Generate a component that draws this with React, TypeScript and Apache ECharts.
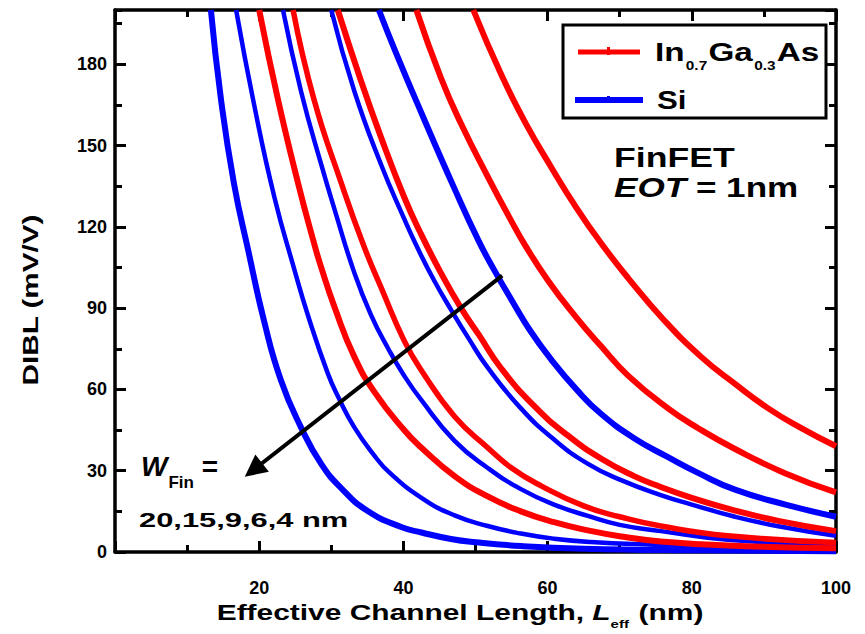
import React, { useEffect, useRef } from "react";
import * as echarts from "echarts";

const FONT = 'Arial, "Liberation Sans", sans-serif';
const RED = "#ff0000";
const BLUE = "#0000ff";

const xTickLabels = [20, 40, 60, 80, 100];
const yTickLabels = [0, 30, 60, 90, 120, 150, 180];

// Si, W_Fin = 4, 6, 9, 15, 20 nm  ([Leff (nm), DIBL (mV/V)])
const si4 = [[13.3, 200], [14.7, 167], [16.5, 136], [18.5, 111], [20.7, 85], [23, 63.5], [25.8, 46], [28.6, 32.5], [31.4, 23.5], [35, 15.2], [39.7, 9.2], [42.5, 7.2], [46.6, 4.8], [50, 3.6], [56.3, 2.2], [65, 1.2], [80, 0.6], [100, 0.3]];
const si6 = [[16.8, 200], [19.3, 165], [22.1, 131], [24.9, 104], [26.8, 87], [29.5, 66], [31, 57], [33.2, 46], [36, 35.5], [38, 29.5], [42.5, 20], [47.1, 13.5], [51.7, 9.6], [56.3, 6.8], [60.9, 4.9], [66, 3.7], [75.7, 2.6], [85, 1.6], [100, 0.8]];
const si9 = [[23.3, 200], [25.8, 170], [28.6, 143], [30.5, 126], [33.2, 103], [35.5, 87.5], [37.9, 75], [40, 65.5], [42.5, 56], [47.1, 41], [51.7, 31], [56.3, 23.2], [60.9, 17.5], [65.6, 13.3], [70, 10], [75.7, 7.7], [85, 4.5], [100, 2.5]];
const si15 = [[30, 200], [33.2, 170], [36.9, 143], [40.1, 123], [42, 112], [44.3, 100], [46.7, 89], [49, 79], [51.7, 68], [56.3, 53], [60.9, 41.5], [65.6, 32.5], [70.2, 26.5], [75.7, 21], [80, 17.5], [86, 13], [92, 9.5], [100, 6]];
const si20 = [[36.6, 200], [39, 184], [42.5, 162], [47.1, 134], [50.4, 115], [52.6, 104], [55, 93], [57.5, 82], [60.5, 71], [64, 60], [67.4, 51], [72, 42], [76.7, 35], [81, 29], [86, 23], [93, 17.5], [100, 13]];

// In0.7Ga0.3As, W_Fin = 4, 6, 9, 15, 20 nm
const ingaas4 = [[20, 200], [22.6, 167], [25.4, 136], [27.6, 114], [28.6, 105], [30.5, 90], [33.2, 72], [36, 59], [40.1, 45], [42.5, 38.5], [47.1, 28], [51.7, 20.5], [56.3, 15], [60.9, 11], [65.6, 8], [70, 5.8], [75.7, 3.9], [85, 2.4], [100, 1.4]];
const ingaas6 = [[24.7, 200], [27.6, 167], [31.4, 136], [34.5, 113], [37, 97], [40.1, 78], [42.5, 67], [47.1, 50], [51.7, 38.5], [55, 31], [59.1, 24.4], [65, 17], [70, 13], [75.7, 9.6], [85, 6], [100, 3.5]];
const ingaas9 = [[30.9, 200], [34.1, 174], [36.9, 153], [40.1, 131], [42.5, 117], [45.2, 103], [48, 90], [50.5, 80], [53.5, 68], [58.1, 54], [62.8, 43], [67.4, 34.5], [72, 28], [75.7, 24], [80, 20], [86, 15.3], [92, 11.5], [100, 7.7]];
const ingaas15 = [[41.8, 200], [45.2, 175], [48, 158], [51.8, 138], [55, 122], [56.7, 114], [60.1, 100], [64, 86.5], [67.4, 76], [71.2, 65], [76.7, 53], [81, 45.5], [86, 38], [93, 29], [100, 22]];
const ingaas20 = [[49.7, 200], [53.6, 176], [57, 158], [60.5, 142], [64, 127], [67.4, 114], [71.2, 101], [76, 86], [81.3, 72], [86, 62], [90.6, 53], [95, 46], [100, 39]];

// arrow annotation, data coordinates (tail -> head)
const arrowTail = [53.7, 102];
const arrowHead = [19.2, 30.3];

const curves = [
  { name: "Si", data: si4, color: BLUE, width: 6 },
  { name: "Si", data: si6, color: BLUE, width: 4.5 },
  { name: "Si", data: si9, color: BLUE, width: 4.5 },
  { name: "Si", data: si15, color: BLUE, width: 4.5 },
  { name: "Si", data: si20, color: BLUE, width: 6 },
  { name: "In0.7Ga0.3As", data: ingaas4, color: RED, width: 6 },
  { name: "In0.7Ga0.3As", data: ingaas6, color: RED, width: 5.5 },
  { name: "In0.7Ga0.3As", data: ingaas9, color: RED, width: 6 },
  { name: "In0.7Ga0.3As", data: ingaas15, color: RED, width: 6 },
  { name: "In0.7Ga0.3As", data: ingaas20, color: RED, width: 6 },
];

const black = "#000";
const lineStyle = { color: black, width: 3.5 };
const tickStyle = { color: black, width: 3 };

function makeX(position: string, showLabel: boolean) {
  return {
    type: "value",
    position,
    min: 0,
    max: 100,
    interval: 20,
    axisLine: { show: true, onZero: false, lineStyle },
    axisTick: { show: true, inside: true, length: 11, lineStyle: tickStyle },
    minorTick: { show: true, splitNumber: 2, length: 7, lineStyle: tickStyle },
    splitLine: { show: false },
    minorSplitLine: { show: false },
    axisLabel: {
      show: showLabel,
      showMinLabel: false,
      margin: 27,
      fontSize: 18,
      fontWeight: "bold",
      fontFamily: FONT,
      color: black,
      formatter: (v: number) => (xTickLabels.includes(v) ? String(v) : ""),
    },
  };
}

function makeY(position: string, interval: number, major: boolean, showLabel: boolean) {
  return {
    type: "value",
    position,
    min: 0,
    max: 200,
    interval,
    axisLine: { show: major, onZero: false, lineStyle },
    axisTick: { show: true, inside: true, length: major ? 11 : 7, lineStyle: tickStyle },
    splitLine: { show: false },
    axisLabel: {
      show: showLabel,
      showMaxLabel: false,
      margin: 8,
      fontSize: 18,
      fontWeight: "bold",
      fontFamily: FONT,
      color: black,
      formatter: (v: number) => (yTickLabels.includes(v) ? String(v) : ""),
    },
  };
}

export default function App() {
  const ref = useRef<HTMLDivElement>(null);

  useEffect(() => {
    const chart = echarts.init(ref.current!, null, { renderer: "svg" });

    const series: any[] = curves.map((c) => ({
      type: "line",
      name: c.name,
      data: c.data,
      xAxisIndex: 0,
      yAxisIndex: 0,
      symbol: "none",
      showSymbol: false,
      smooth: 0.5,
      clip: true,
      lineStyle: { color: c.color, width: c.width },
      itemStyle: { color: c.color },
    }));
    series[series.length - 1].markLine = {
      silent: true,
      symbol: ["none", "triangle"],
      symbolSize: 22,
      label: { show: false },
      lineStyle: { color: black, width: 4, type: "solid" },
      itemStyle: { color: black },
      data: [[{ coord: arrowTail }, { coord: arrowHead }]],
    };

    const tx = (extra: any) => ({ fontFamily: FONT, fontWeight: "bold", fill: black, ...extra });

    chart.setOption({
      animation: false,
      backgroundColor: "#fff",
      grid: { left: 115, right: 29, top: 10, bottom: 82, containLabel: false },
      xAxis: [makeX("bottom", true), makeX("top", false)],
      yAxis: [
        makeY("left", 30, true, true),
        makeY("left", 15, false, false),
        makeY("right", 30, true, false),
        makeY("right", 15, false, false),
      ],
      series,
      graphic: [
        // legend
        {
          type: "rect",
          shape: { x: 563, y: 25, width: 263, height: 93 },
          style: { fill: "#fff", stroke: black, lineWidth: 3 },
          z: 10,
        },
        { type: "line", shape: { x1: 578, y1: 52, x2: 640, y2: 52 }, style: { stroke: RED, lineWidth: 5 }, z: 11 },
        { type: "rect", shape: { x: 607, y: 47, width: 3, height: 8 }, style: { fill: RED }, z: 11 },
        { type: "line", shape: { x1: 575, y1: 100, x2: 643, y2: 100 }, style: { stroke: BLUE, lineWidth: 6 }, z: 11 },
        { type: "rect", shape: { x: 607, y: 96, width: 3, height: 6 }, style: { fill: BLUE }, z: 11 },
        {
          type: "text",
          x: 655,
          y: 52,
          scaleX: 1.28,
          z: 11,
          style: {
            text: "{m|In}{s|0.7}{m|Ga}{s|0.3}{m|As}",
            verticalAlign: "middle",
            rich: {
              m: tx({ fontSize: 26, lineHeight: 40 }),
              s: tx({ fontSize: 12, lineHeight: 12, padding: [28, 1, 0, 1] }),
            },
          },
        },
        {
          type: "text",
          x: 657,
          y: 100,
          scaleX: 1.2,
          z: 11,
          style: tx({ text: "Si", fontSize: 26, verticalAlign: "middle" }),
        },
        // FinFET annotation
        {
          type: "text",
          x: 614,
          y: 158,
          scaleX: 1.32,
          z: 11,
          style: tx({ text: "FinFET", fontSize: 27, verticalAlign: "middle" }),
        },
        {
          type: "text",
          x: 614,
          y: 188,
          scaleX: 1.3,
          z: 11,
          style: {
            text: "{i|EOT}{n| = 1nm}",
            verticalAlign: "middle",
            rich: {
              i: tx({ fontSize: 27, fontStyle: "italic", lineHeight: 30 }),
              n: tx({ fontSize: 27, lineHeight: 30 }),
            },
          },
        },
        // W_Fin annotation
        {
          type: "text",
          x: 141,
          y: 466,
          z: 11,
          style: {
            text: "{w|W}{f|Fin}{e| =}",
            verticalAlign: "middle",
            rich: {
              w: tx({ fontSize: 28, fontStyle: "italic", lineHeight: 46 }),
              f: tx({ fontSize: 17, lineHeight: 14, padding: [32, 0, 0, 1] }),
              e: tx({ fontSize: 28, lineHeight: 46 }),
            },
          },
        },
        {
          type: "text",
          x: 139,
          y: 520,
          scaleX: 1.47,
          z: 11,
          style: tx({ text: "20,15,9,6,4 nm", fontSize: 21, verticalAlign: "middle" }),
        },
        // axis titles
        {
          type: "text",
          x: 460,
          y: 612,
          scaleX: 1.36,
          z: 11,
          style: {
            text: "{a|Effective Channel Length, }{l|L}{s|eff}{a| (nm)}",
            align: "center",
            verticalAlign: "middle",
            rich: {
              a: tx({ fontSize: 22, lineHeight: 36 }),
              l: tx({ fontSize: 22, fontStyle: "italic", lineHeight: 36 }),
              s: tx({ fontSize: 11, lineHeight: 11, padding: [25, 1, 0, 0] }),
            },
          },
        },
        {
          type: "text",
          x: 30,
          y: 300,
          rotation: Math.PI / 2,
          scaleX: 1.35,
          z: 11,
          style: tx({ text: "DIBL (mV/V)", fontSize: 22, align: "center", verticalAlign: "middle" }),
        },
      ],
    });

    return () => chart.dispose();
  }, []);

  return (
    <div
      ref={ref}
      style={{ position: "absolute", left: 0, top: 0, width: 865, height: 634, background: "#fff" }}
    />
  );
}
